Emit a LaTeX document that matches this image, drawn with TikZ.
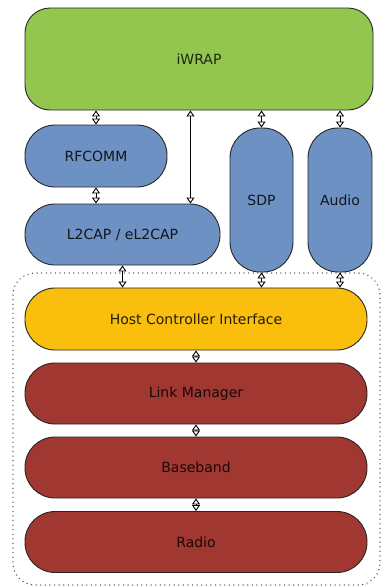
\documentclass[tikz,border=0pt]{standalone}
\usepackage{fontspec}
\setsansfont{DejaVu Sans}
\usepackage{tikz}
\usetikzlibrary{arrows.meta}
\definecolor{wrapgreen}{RGB}{146,198,78}
\definecolor{stackblue}{RGB}{110,145,195}
\definecolor{hciyellow}{RGB}{250,190,12}
\definecolor{ctrlred}{RGB}{160,55,48}

\begin{document}
\begin{tikzpicture}[x=1pt,y=-1pt,
    layer/.style={draw=black!85,line width=0.9pt,font=\sffamily\fontsize{14}{16}\selectfont,rounded corners=30pt,inner sep=0pt},
    hostlayer/.style={layer,fill=stackblue,text=black!85!stackblue},
    ctrllayer/.style={layer,fill=ctrlred,text=black!85!ctrlred,minimum width=342pt,minimum height=61pt},
    link/.style={line width=0.9pt,{Triangle[open,length=6pt,width=8pt]}-{Triangle[open,length=6pt,width=8pt]}}]
    \useasboundingbox (0,0) rectangle (385,587);

    \draw[black!70,line width=1.4pt,dash pattern=on 0.1pt off 4.5pt,line cap=round,rounded corners=22pt] (13,273) rectangle (380,585);

    \node[layer,fill=wrapgreen,text=black!80!wrapgreen,rounded corners=25pt,minimum width=348pt,minimum height=102pt] (iwrap) at (199,59) {iWRAP};
    \node[hostlayer,minimum width=142pt,minimum height=62pt] (rfcomm) at (96,156) {RFCOMM};
    \node[hostlayer,minimum width=195pt,minimum height=61pt] (l2cap) at (122.5,234.5) {L2CAP / eL2CAP};
    \node[hostlayer,minimum width=63pt,minimum height=144pt] (sdp) at (261.5,200) {SDP};
    \node[hostlayer,minimum width=64pt,minimum height=144pt] (audio) at (340,200) {Audio};
    \node[layer,fill=hciyellow,text=black!85!hciyellow,minimum width=342pt,minimum height=62pt] (hci) at (196,319) {Host Controller Interface};
    \node[ctrllayer] (lm) at (196,393.5) {Link Manager};
    \node[ctrllayer] (bb) at (196,467.5) {Baseband};
    \node[ctrllayer] (radio) at (196,542) {Radio};

    \draw[link] (iwrap.south -| rfcomm.north) -- (rfcomm.north);
    \draw[link] (iwrap.south -| sdp.north) -- (sdp.north);
    \draw[link] (iwrap.south -| audio.north) -- (audio.north);
    \draw[link] ([xshift=-30pt]l2cap.north east |- iwrap.south) -- ([xshift=-30pt]l2cap.north east);
    \draw[link] (rfcomm.south) -- (rfcomm.south |- l2cap.north);
    \draw[link] (l2cap.south) -- (l2cap.south |- hci.north);
    \draw[link] (sdp.south) -- (sdp.south |- hci.north);
    \draw[link] (audio.south) -- (audio.south |- hci.north);
    \draw[link] (hci.south) -- (lm.north);
    \draw[link] (lm.south) -- (bb.north);
    \draw[link] (bb.south) -- (radio.north);
\end{tikzpicture}
\end{document}
